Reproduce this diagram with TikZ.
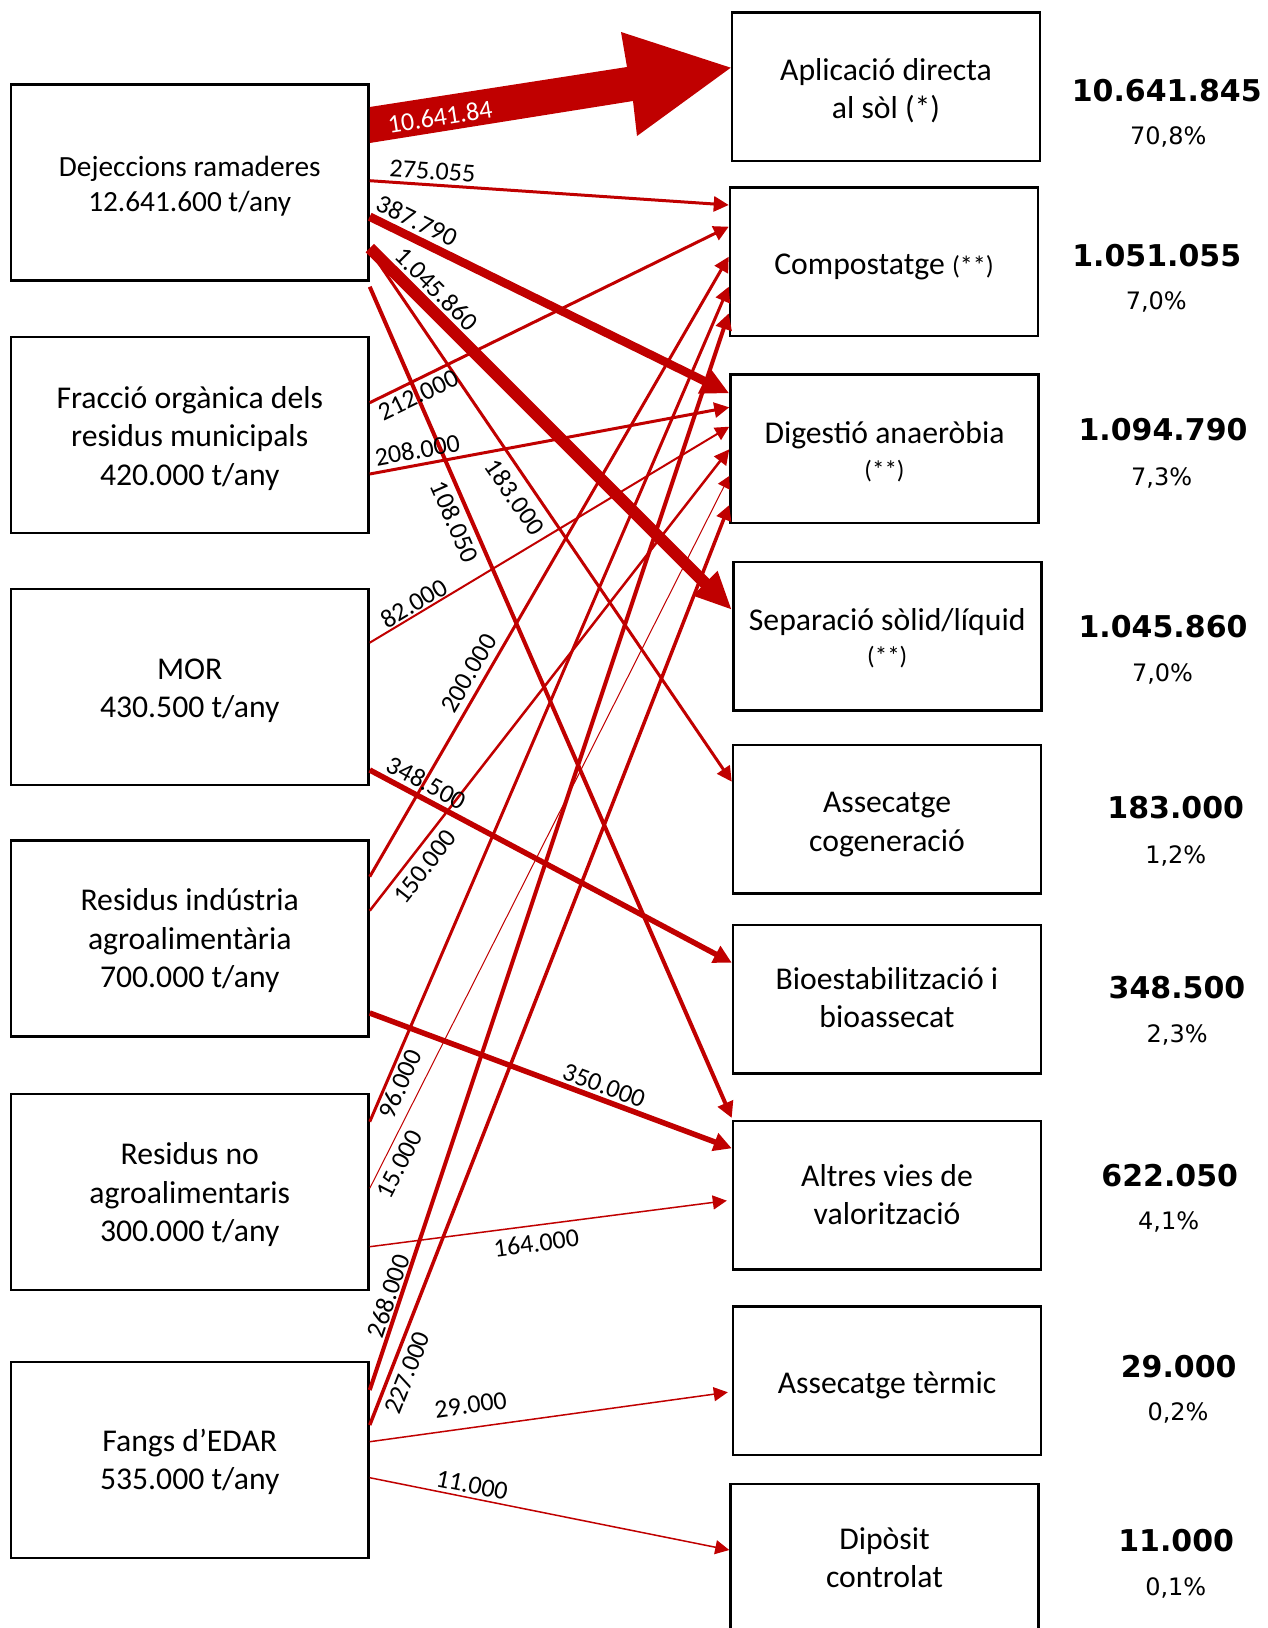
\documentclass[tikz,border=0pt]{standalone}
\usepackage{fontspec}
\setmainfont{Carlito}
\newfontfamily\numfont{DejaVu Sans}
\usetikzlibrary{arrows.meta}
\definecolor{dred}{HTML}{C00000}
\newcommand{\bxt}[2]{\raisebox{-#1pt}[\height][\depth]{\begin{tabular}{@{}c@{}}#2\end{tabular}}}
\begin{document}
\begin{tikzpicture}[x=1pt,y=-1pt,
  box/.style={draw=black, line width=2.5pt, minimum width=357.5pt, minimum height=196pt,
    inner sep=0pt, align=center, font=\fontsize{31.7}{38.5}\selectfont},
  rbox/.style={box, minimum width=308pt, minimum height=148.5pt},
  flow/.style n args={3}{draw=dred, line width=#1pt, -{Triangle[length=#2pt, width=#3pt]}},
  lbl/.style={font=\fontsize{26}{30}\selectfont, inner sep=0pt},
  val/.style={font=\numfont\bfseries\fontsize{30}{36}\selectfont, inner sep=0pt},
  pct/.style={font=\numfont\fontsize{24}{29}\selectfont, inner sep=0pt}]
\useasboundingbox (0,0) rectangle (1268,1628);

% left boxes
\node[box, font=\fontsize{29.3}{35}\selectfont] (dej) at (189.75,182.5) {\bxt{4}{Dejeccions ramaderes\\12.641.600 t/any}};
\node[box] (fra) at (189.75,434.75) {\bxt{4.4}{Fracció orgànica dels\\residus municipals\\420.000 t/any}};
\node[box] (mor) at (189.75,687) {\bxt{4}{MOR\\430.500 t/any}};
\node[box] (ind) at (189.75,938.5) {\bxt{3}{Residus indústria\\agroalimentària\\700.000 t/any}};
\node[box] (noag) at (189.75,1191.75) {\bxt{4}{Residus no\\agroalimentaris\\300.000 t/any}};
\node[box] (fan) at (189.75,1459.75) {\bxt{3}{Fangs d’EDAR\\535.000 t/any}};

% right boxes
\node[rbox] (apl) at (886,86.75) {\bxt{5}{Aplicació directa\\al sòl (*)}};
\node[rbox] (com) at (884,261.5) {\bxt{5.3}{Compostatge {\fontsize{26}{31}\selectfont(**)}}};
\node[rbox] (dig) at (884.5,448.5) {\bxt{5}{Digestió anaeròbia\\[-4pt]{\fontsize{25}{30}\selectfont(**)}}};
\node[rbox] (sep) at (887.25,636.2) {\bxt{3.6}{Separació sòlid/líquid\\[-5pt]{\fontsize{25}{30}\selectfont(**)}}};
\node[rbox] (asc) at (887,819.2) {\bxt{5}{Assecatge\\cogeneració}};
\node[rbox] (bio) at (887,999) {\bxt{2}{Bioestabilització i\\bioassecat}};
\node[rbox] (alt) at (887,1195) {\bxt{3}{Altres vies de\\valorització}};
\node[rbox] (ter) at (887,1380.5) {\bxt{5.3}{Assecatge tèrmic}};
\node[rbox] (dip) at (884.5,1558) {\bxt{3}{Dipòsit\\controlat}};

% big block arrow
\fill[dred] (dej.east |- 0,107) -- (627,67) -- (621,32) -- (apl.west |- 0,67.7)
  -- (637,136) -- (633,101) -- (dej.east |- 0,143) -- cycle;
\node[lbl, text=white, rotate=8.9] (l1) at (440,116.7) {10.641.84};

% flows from Dejeccions
\draw[flow={3}{15}{15}] (dej.east |- 0,180.7) -- (com.west |- 0,205);
\draw[flow={8.5}{28}{26}] (dej.east |- 0,216.7) -- (dig.west |- 0,393.3);
\draw[flow={12}{38}{32}] (dej.east |- 0,248) -- (sep.west |- 0,610);
\draw[flow={3}{15}{15}] (dej.east |- 0,250) -- (asc.west |- 0,781.7);
\draw[flow={4}{16}{16}] ([yshift=-5pt]dej.south east) -- (alt.west |- 0,1118);
% Fraccio
\draw[flow={3}{15}{15}] (fra.east |- 0,402.7) -- (com.west |- 0,226.7);
\draw[flow={3}{15}{15}] (fra.east |- 0,474) -- (dig.west |- 0,407.3);
% MOR
\draw[flow={2}{14}{14}] (mor.east |- 0,642.7) -- (dig.west |- 0,426.7);
\draw[flow={5.5}{18}{18}] (mor.east |- 0,770) -- (bio.west |- 0,962.7);
% industria
\draw[flow={3}{15}{15}] (ind.east |- 0,876.7) -- (com.west |- 0,256.7);
\draw[flow={2.5}{15}{15}] (ind.east |- 0,910.7) -- (dig.west |- 0,449.3);
\draw[flow={5.5}{18}{18}] (ind.east |- 0,1013) -- (alt.west |- 0,1148.3);
% no agro
\draw[flow={3}{15}{15}] (noag.east |- 0,1121.7) -- (com.west |- 0,286.7);
\draw[flow={1}{12}{13}] (noag.east |- 0,1188.3) -- (dig.west |- 0,476);
\draw[flow={1.5}{14}{14}, shorten >=5pt] (noag.east |- 0,1246.7) -- (alt.west |- 0,1200);
% fangs
\draw[flow={4}{16}{16}] (fan.east |- 0,1390) -- (com.west |- 0,313.3);
\draw[flow={3.5}{15}{15}] (fan.east |- 0,1425) -- (dig.west |- 0,505);
\draw[flow={1.5}{14}{14}, shorten >=4pt] (fan.east |- 0,1441.7) -- (ter.west |- 0,1391.7);
\draw[flow={1.5}{14}{14}] (fan.east |- 0,1477.7) -- (dip.west |- 0,1550);

% flow labels
\node[lbl, rotate=-3.8] (l2) at (432.5,171) {275.055};
\node[lbl, rotate=-26] (l3) at (417.3,220.7) {387.790};
\node[lbl, rotate=-45] (l4) at (436.7,289) {1.045.860};
\node[lbl, rotate=-55.6] (l5) at (515,497.3) {183.000};
\node[lbl, rotate=-66.4] (l6) at (455,521.7) {108.050};
\node[lbl, rotate=25.9] (l7) at (418.3,395) {212.000};
\node[lbl, rotate=10.4] (l8) at (417.3,450) {208.000};
\node[lbl, rotate=30.8] (l9) at (414,603.3) {82.000};
\node[lbl, rotate=-28.2] (l10) at (426.7,782.7) {348.500};
\node[lbl, rotate=59.7] (l11) at (469,673.3) {200.000};
\node[lbl, rotate=51.8] (l12) at (425,866.7) {150.000};
\node[lbl, rotate=-20.4] (l13) at (604,1085.7) {350.000};
\node[lbl, rotate=66.5] (l14) at (400,1084) {96.000};
\node[lbl, rotate=63] (l15) at (400,1164) {15.000};
\node[lbl, rotate=7.4] (l16) at (536.3,1243) {164.000};
\node[lbl, rotate=71.4] (l17) at (388.3,1296) {268.000};
\node[lbl, rotate=68.5] (l18) at (407.3,1372.7) {227.000};
\node[lbl, rotate=7.9] (l19) at (470.7,1405) {29.000};
\node[lbl, rotate=-11.4] (l20) at (472,1485) {11.000};

% totals
\node[val] (v1) at (1166.7,90.3) {10.641.845};
\node[pct] (p1) at (1168.3,137) {70,8\%};
\node[val] (v2) at (1156.7,255.5) {1.051.055};
\node[pct] (p2) at (1156.3,302) {7,0\%};
\node[val] (v3) at (1163,430) {1.094.790};
\node[pct] (p3) at (1161.7,477.6) {7,3\%};
\node[val] (v4) at (1163,627) {1.045.860};
\node[pct] (p4) at (1162.5,674) {7,0\%};
\node[val] (v5) at (1175.7,808) {183.000};
\node[pct] (p5) at (1175.8,855.6) {1,2\%};
\node[val] (v6) at (1177,987.6) {348.500};
\node[pct] (p6) at (1177.2,1035) {2,3\%};
\node[val] (v7) at (1169.7,1175.6) {622.050};
\node[pct] (p7) at (1168.7,1222) {4,1\%};
\node[val] (v8) at (1178.7,1366.7) {29.000};
\node[pct] (p8) at (1178,1413) {0,2\%};
\node[val] (v9) at (1176.2,1541) {11.000};
\node[pct] (p9) at (1175.8,1587.7) {0,1\%};
\end{tikzpicture}
\end{document}
